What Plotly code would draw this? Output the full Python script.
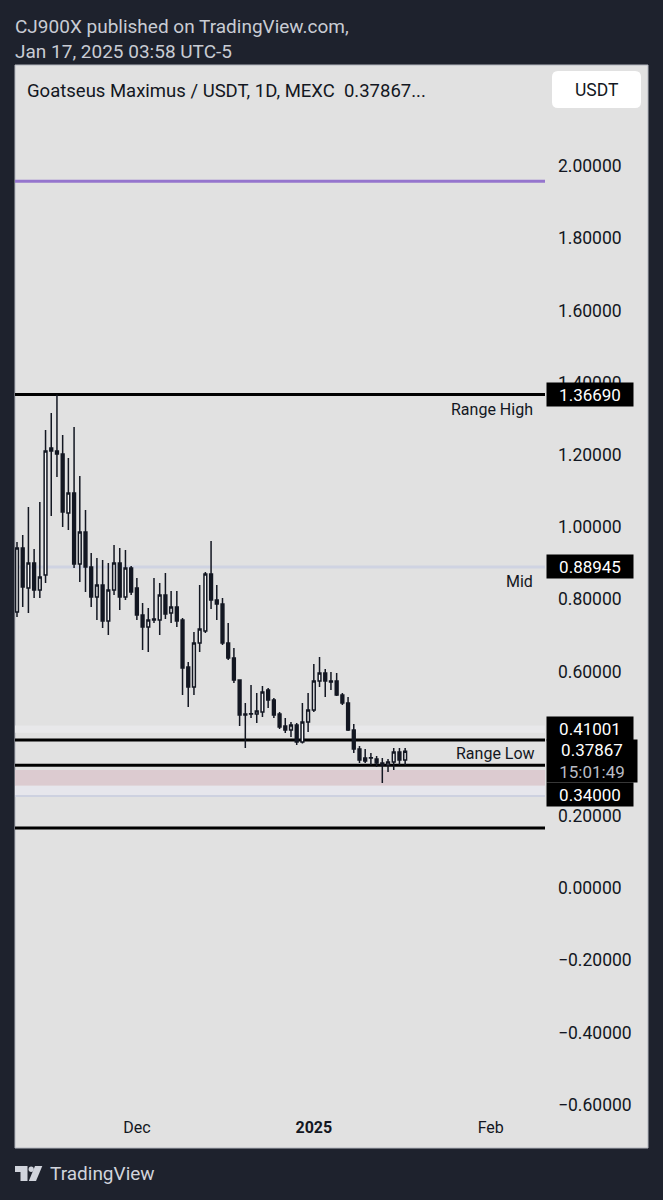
import plotly.graph_objects as go
import pandas as pd

# ---------------- data ----------------
opens = [0.7645, 0.9418, 0.8310, 0.9003, 0.8255, 0.8670, 1.2188, 1.2105, 1.2022, 1.0388,
         1.0942, 0.8975, 0.9861, 0.8892, 0.8061, 0.8393, 0.7396, 0.8255, 0.9003, 0.8061,
         0.8864, 0.8310, 0.7562, 0.7230, 0.7424, 0.7424, 0.8116, 0.7618, 0.7784, 0.7424,
         0.6122, 0.5568, 0.6787, 0.7119, 0.8698, 0.7978, 0.7867, 0.6787, 0.6371, 0.5762,
         0.4792, 0.4820, 0.4820, 0.4875, 0.5485, 0.5208, 0.4820, 0.4488, 0.4377, 0.4515,
         0.4044, 0.4598, 0.4931, 0.5734, 0.5956, 0.5734, 0.5734, 0.5346, 0.5125, 0.4377,
         0.3850, 0.3601, 0.3601, 0.3573, 0.3463, 0.3407, 0.3490, 0.3767, 0.3546]
highs = [0.9584, 0.9778, 1.0554, 0.9391, 1.0693, 1.2687, 1.3158, 1.3669, 1.2548, 1.1911,
         1.2770, 1.1413, 1.0471, 0.9280, 0.9141, 0.9086, 0.9003, 0.9501, 0.9418, 0.9363,
         0.8920, 0.8587, 0.7895, 0.7756, 0.8587, 0.8449, 0.8726, 0.8227, 0.8227, 0.7479,
         0.6260, 0.7091, 0.8393, 0.8753, 0.9612, 0.8393, 0.8033, 0.7341, 0.6648, 0.5762,
         0.5125, 0.5623, 0.5402, 0.5596, 0.5540, 0.5263, 0.4875, 0.4709, 0.4598, 0.4571,
         0.5125, 0.5402, 0.6205, 0.6399, 0.6066, 0.5983, 0.5956, 0.5402, 0.5291, 0.4543,
         0.3934, 0.3850, 0.3740, 0.3657, 0.3601, 0.3573, 0.3878, 0.3878, 0.3878]
lows = [0.7507, 0.7784, 0.7618, 0.8033, 0.8033, 0.8449, 1.0305, 1.1385, 1.0000, 0.9917,
        0.8864, 0.8476, 0.8199, 0.7784, 0.7424, 0.7202, 0.7008, 0.8116, 0.7701, 0.7978,
        0.8116, 0.7424, 0.6593, 0.6537, 0.7341, 0.7008, 0.7452, 0.7341, 0.7230, 0.5346,
        0.5014, 0.5346, 0.6537, 0.7064, 0.7729, 0.7424, 0.6731, 0.6316, 0.5679, 0.4488,
        0.3878, 0.4709, 0.4571, 0.4737, 0.4986, 0.4709, 0.4404, 0.4294, 0.4183, 0.3961,
        0.4000, 0.4321, 0.4875, 0.5568, 0.5291, 0.5485, 0.5319, 0.5069, 0.4349, 0.3740,
        0.3463, 0.3463, 0.3407, 0.3352, 0.2909, 0.3213, 0.3269, 0.3407, 0.3407]
closes = [0.9418, 0.8338, 0.9003, 0.8255, 0.8615, 1.2105, 1.2105, 1.2022, 1.0416, 1.0942,
          0.8975, 0.9861, 0.8892, 0.8061, 0.8393, 0.7396, 0.8255, 0.9003, 0.8061, 0.8864,
          0.8199, 0.7562, 0.7230, 0.7424, 0.7452, 0.8116, 0.7590, 0.7784, 0.7396, 0.6094,
          0.5568, 0.6787, 0.7175, 0.8698, 0.7978, 0.7867, 0.6787, 0.6371, 0.5762, 0.4792,
          0.4820, 0.4825, 0.4903, 0.5429, 0.5208, 0.4792, 0.4460, 0.4377, 0.4515, 0.4044,
          0.4598, 0.4931, 0.5734, 0.5956, 0.5734, 0.5706, 0.5346, 0.5125, 0.4377, 0.3850,
          0.3546, 0.3518, 0.3605, 0.3463, 0.3407, 0.3490, 0.3767, 0.3546, 0.37867]
dates = pd.date_range("2024-11-10", periods=len(opens), freq="D")

level_purple = 1.958
range_high = 1.3669
mid_level = 0.88945
range_low = 0.41001
low_line = 0.34
bottom_line = 0.166
zone_low, zone_high = 0.283, 0.327
blue_line = 0.255
last_price = 0.37867

# 0.40000 is hidden behind the price boxes in the original
y_ticks = [-0.6, -0.4, -0.2, 0.0, 0.2, 0.6, 0.8, 1.0, 1.2, 1.4, 1.6, 1.8, 2.0]
x_tickvals = ["2024-12-01", "2025-01-01", "2025-02-01"]
x_ticktext = ["Dec", "<b>2025</b>", "Feb"]

# ---------------- layout helpers (pixel -> paper) ----------------
W, H = 663, 1200
L, R, T, B = 15, 545, 65, 1110
def px(x):
    return (x - L) / (R - L)
def py(y):
    return (B - y) / (B - T)

DARK = "#1e222d"
PANEL = "#e1e1e1"
INK = "#131722"
FONT = "Roboto"

fig = go.Figure()
fig.add_trace(go.Candlestick(
    x=dates, open=opens, high=highs, low=lows, close=closes,
    increasing=dict(line=dict(color=INK, width=1.5), fillcolor="#f7f7f7"),
    decreasing=dict(line=dict(color=INK, width=1.5), fillcolor=INK),
    whiskerwidth=0, showlegend=False, hoverinfo="skip"))

shapes = []
# panel
shapes.append(dict(type="rect", xref="paper", yref="paper", x0=px(15), x1=px(648),
                   y0=py(1148), y1=py(65), fillcolor=PANEL,
                   line=dict(color="#b4b7bf", width=1), layer="below"))
# zones / lines
shapes.append(dict(type="rect", xref="paper", yref="y", x0=0, x1=1, y0=zone_low, y1=zone_high,
                   fillcolor="#dccbd0", line=dict(width=0), layer="below"))
shapes.append(dict(type="rect", xref="paper", yref="y", x0=0, x1=1, y0=blue_line - 0.003, y1=zone_low,
                   fillcolor="#e6e6ec", line=dict(width=0), layer="below"))
shapes.append(dict(type="line", xref="paper", yref="y", x0=0, x1=1, y0=blue_line, y1=blue_line,
                   line=dict(color="#cdd1e0", width=2), layer="below"))
shapes.append(dict(type="rect", xref="paper", yref="y", x0=0, x1=1, y0=0.43, y1=0.45,
                   fillcolor="#e8e8ea", line=dict(width=0), layer="below"))
shapes.append(dict(type="line", xref="paper", yref="y", x0=0, x1=1, y0=mid_level, y1=mid_level,
                   line=dict(color="#cfd3e2", width=3), layer="below"))
shapes.append(dict(type="line", xref="paper", yref="y", x0=0, x1=1, y0=level_purple, y1=level_purple,
                   line=dict(color="#9575cd", width=3), layer="below"))
for lv in [range_high, range_low, low_line, bottom_line]:
    shapes.append(dict(type="line", xref="paper", yref="y", x0=0, x1=1, y0=lv, y1=lv,
                       line=dict(color="#000000", width=3), layer="below"))

# USDT button (rounded rectangle)
bx0, bx1, by0, by1, rr = 552, 641, 71, 108, 6
btn = (f"M {px(bx0+rr)} {py(by0)} L {px(bx1-rr)} {py(by0)} Q {px(bx1)} {py(by0)} {px(bx1)} {py(by0+rr)} "
       f"L {px(bx1)} {py(by1-rr)} Q {px(bx1)} {py(by1)} {px(bx1-rr)} {py(by1)} "
       f"L {px(bx0+rr)} {py(by1)} Q {px(bx0)} {py(by1)} {px(bx0)} {py(by1-rr)} "
       f"L {px(bx0)} {py(by0+rr)} Q {px(bx0)} {py(by0)} {px(bx0+rr)} {py(by0)} Z")
shapes.append(dict(type="path", xref="paper", yref="paper", path=btn,
                   fillcolor="#ffffff", line=dict(width=0), layer="above"))
# TradingView logo
shapes.append(dict(type="path", xref="paper", yref="paper",
                   path=(f"M {px(15)} {py(1166)} L {px(27.5)} {py(1166)} L {px(27.5)} {py(1181)} "
                         f"L {px(20.5)} {py(1181)} L {px(20.5)} {py(1172)} L {px(15)} {py(1172)} Z"),
                   fillcolor="#d1d4dc", line=dict(width=0)))
shapes.append(dict(type="circle", xref="paper", yref="paper", x0=px(28.6), x1=px(33.8),
                   y0=py(1172), y1=py(1166.5), fillcolor="#d1d4dc", line=dict(width=0)))
shapes.append(dict(type="path", xref="paper", yref="paper",
                   path=(f"M {px(35)} {py(1166)} L {px(42.3)} {py(1166)} L {px(36)} {py(1181)} "
                         f"L {px(28.8)} {py(1181)} Z"),
                   fillcolor="#d1d4dc", line=dict(width=0)))

ann = []
def txt(x, y, s, size, color, xanchor="left", yanchor="middle", xref="paper", yref="paper", **kw):
    ann.append(dict(x=x, y=y, xref=xref, yref=yref, text=s, showarrow=False,
                    xanchor=xanchor, yanchor=yanchor,
                    font=dict(family=FONT, size=size, color=color), **kw))

txt(px(13), py(26.5), "CJ900X published on TradingView.com,", 19, "#c9ccd4")
txt(px(13), py(51.5), "Jan 17, 2025 03:58 UTC-5", 19, "#c9ccd4")
txt(px(25), py(91), "Goatseus Maximus / USDT, 1D, MEXC&nbsp;&nbsp;0.37867...", 18.5, INK)
txt(px(596.5), py(90), "USDT", 17.5, INK, xanchor="center")
txt(px(48), py(1173), "TradingView", 19, "#d1d4dc")

# level labels
txt(px(535), range_high, "Range High", 16, INK, xanchor="right", yanchor="top", yref="y", yshift=-3)
txt(px(535), mid_level, "Mid", 16, INK, xanchor="right", yanchor="top", yref="y", yshift=-3)
txt(px(537), range_low, "Range Low", 16, INK, xanchor="right", yanchor="top", yref="y", yshift=-2)

# price boxes
def box(val, label, shift=0, height=21, width=84):
    ann.append(dict(x=px(546), y=val, xref="paper", yref="y", text=label, showarrow=False,
                    xanchor="left", yanchor="middle", yshift=shift, bgcolor="#000000",
                    width=width, height=height, borderpad=1, align="center",
                    font=dict(family=FONT, size=17, color="#ffffff")))

box(range_high, f"{range_high:.5f}")
box(mid_level, f"{mid_level:.5f}")
box(range_low, f"{range_low:.5f}", shift=11)
box(last_price, f"{last_price:.5f}<br><span style='color:#b9bcc4'>15:01:49</span>",
    shift=-10, height=40, width=88)
box(low_line, f"{low_line:.5f}", shift=-29)

fig.update_layout(
    width=W, height=H,
    margin=dict(l=L, r=W - R, t=T, b=H - B),
    paper_bgcolor=DARK, plot_bgcolor=PANEL,
    shapes=shapes, annotations=ann,
    showlegend=False,
    font=dict(family=FONT, color=INK),
    xaxis=dict(type="date", range=["2024-11-09 15:36", "2025-02-10 12:00"],
               rangeslider=dict(visible=False), showgrid=False, zeroline=False,
               showline=False, ticks="", tickvals=x_tickvals, ticktext=x_ticktext,
               tickfont=dict(family=FONT, size=16, color=INK), ticklabelstandoff=6),
    yaxis=dict(side="right", range=[(888 - B) / 361, (888 - T) / 361],
               tickvals=y_ticks, tickformat=".5f", showgrid=False, zeroline=False,
               showline=False, ticks="", ticklabelstandoff=12,
               tickfont=dict(family=FONT, size=17.5, color=INK)),
)

fig.write_html("out.html", config={"displayModeBar": False},
               post_script="document.body.style.margin='0';")
